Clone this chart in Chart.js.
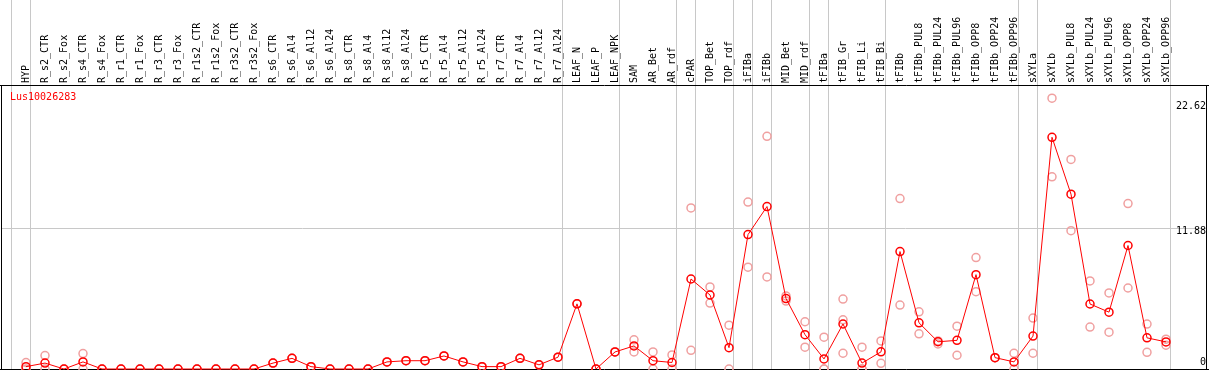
<!DOCTYPE html>
<html>
<head>
<meta charset="utf-8">
<script src="https://cdn.jsdelivr.net/npm/chart.js@4.4.1/dist/chart.umd.min.js"></script>
<style>
  html, body { margin: 0; padding: 0; background: #fff; }
  #wrap { width: 1209px; height: 370px; position: relative; }
</style>
</head>
<body>
<div id="wrap"><canvas id="c" width="1209" height="370"></canvas></div>
<script>
const categories = ["HYP","R_s2_CTR","R_s2_Fox","R_s4_CTR","R_s4_Fox","R_r1_CTR","R_r1_Fox","R_r3_CTR","R_r3_Fox","R_r1s2_CTR","R_r1s2_Fox","R_r3s2_CTR","R_r3s2_Fox","R_s6_CTR","R_s6_Al4","R_s6_Al12","R_s6_Al24","R_s8_CTR","R_s8_Al4","R_s8_Al12","R_s8_Al24","R_r5_CTR","R_r5_Al4","R_r5_Al12","R_r5_Al24","R_r7_CTR","R_r7_Al4","R_r7_Al12","R_r7_Al24","LEAF_N","LEAF_P","LEAF_NPK","SAM","AR_Bet","AR_rdf","cPAR","TOP_Bet","TOP_rdf","iFIBa","iFIBb","MID_Bet","MID_rdf","tFIBa","tFIB_Gr","tFIB_Li","tFIB_Bi","tFIBb","tFIBb_PUL8","tFIBb_PUL24","tFIBb_PUL96","tFIBb_OPP8","tFIBb_OPP24","tFIBb_OPP96","sXYLa","sXYLb","sXYLb_PUL8","sXYLb_PUL24","sXYLb_PUL96","sXYLb_OPP8","sXYLb_OPP24","sXYLb_OPP96"];

const meanValues = [0.2,0.5,0,0.6,0,0,0,0,0,0,0,0,0,0.5,0.9,0.2,0,0,0,0.6,0.7,0.7,1.1,0.6,0.2,0.2,0.9,0.35,1.0,5.5,0,1.44,1.95,0.7,0.55,7.6,6.25,1.8,11.35,13.72,5.95,2.9,0.85,3.8,0.5,1.45,9.92,3.9,2.3,2.42,7.97,0.96,0.6,2.78,19.57,14.76,5.49,4.8,10.43,2.63,2.29];

const rep1Values = [0.55,1.13,0,1.3,0,0,0,0,0,0,0,0,0,0.5,0.9,0.2,0,0,0,0.6,0.7,0.7,1.1,0.6,0.2,0.2,0.9,0.35,1.0,5.5,0,1.44,2.46,1.44,1.19,13.6,6.93,3.7,14.1,19.65,6.17,3.99,2.69,5.91,1.84,2.37,14.39,4.83,2.37,3.62,9.41,0.96,1.33,4.3,22.87,17.7,7.44,6.42,13.97,3.79,2.52];

const rep2Values = [0,0,0,0,0,0,0,0,0,0,0,0,0,0.5,0.9,0.2,0,0,0,0.6,0.7,0.7,1.1,0.6,0.2,0.2,0.9,0.35,1.0,5.5,0,1.44,1.44,0,0,1.58,5.57,0,8.6,7.78,5.74,1.84,0,1.33,0,0.48,5.4,2.97,2.12,1.16,6.53,0.96,0,1.33,16.23,11.68,3.54,3.11,6.84,1.41,2.01];

const rep3Values = {42: 0, 43: 4.15, 44: 0};

const separatorAfter = [-1, 0, 28, 31, 34, 35, 37, 38, 39, 41, 42, 45, 52, 53, 60];
const yTickValues = [0, 11.88, 22.62];
const geneName = "Lus10026283";

const meanPts = meanValues.map((v, i) => ({x: i, y: v}));
const repPts = [];
rep1Values.forEach((v, i) => repPts.push({x: i, y: v}));
rep2Values.forEach((v, i) => repPts.push({x: i, y: v}));
Object.keys(rep3Values).forEach(k => repPts.push({x: +k, y: rep3Values[k]}));

const FONT = "DejaVu Sans Mono";

const decor = {
  id: 'decor',
  beforeDatasetsDraw(chart) {
    const ctx = chart.ctx, xs = chart.scales.x, ys = chart.scales.y, a = chart.chartArea;
    ctx.save();
    ctx.strokeStyle = '#c8c8c8';
    ctx.lineWidth = 1;
    separatorAfter.forEach(i => {
      const px = Math.floor(xs.getPixelForValue(i + 0.237)) + 0.5;
      ctx.beginPath();
      ctx.moveTo(px, 0);
      ctx.lineTo(px, a.bottom);
      ctx.stroke();
    });
    const gy = Math.round(ys.getPixelForValue(yTickValues[1])) + 0.5;
    ctx.beginPath();
    ctx.moveTo(a.left, gy);
    ctx.lineTo(a.right, gy);
    ctx.stroke();
    ctx.strokeStyle = '#000';
    ctx.beginPath();
    ctx.moveTo(0, Math.floor(a.top) - 0.5);
    ctx.lineTo(chart.width, Math.floor(a.top) - 0.5);
    ctx.moveTo(a.left + 0.5, a.top);
    ctx.lineTo(a.left + 0.5, a.bottom);
    ctx.moveTo(a.right - 0.5, a.top);
    ctx.lineTo(a.right - 0.5, a.bottom);
    ctx.moveTo(0, a.bottom + 0.5);
    ctx.lineTo(chart.width, a.bottom + 0.5);
    ctx.stroke();
    ctx.fillStyle = '#000';
    ctx.font = '10px "' + FONT + '"';
    ctx.textAlign = 'left';
    ctx.textBaseline = 'middle';
    categories.forEach((c, i) => {
      const px = xs.getPixelForValue(i);
      ctx.save();
      ctx.translate(px + 0.5, a.top - 3);
      ctx.rotate(-Math.PI / 2);
      ctx.fillText(c, 0, 0);
      ctx.restore();
    });
    ctx.textAlign = 'right';
    const offs = [-6.5, 3, 5.5];
    yTickValues.forEach((v, k) => {
      const py = ys.getPixelForValue(v);
      ctx.fillText(k === 0 ? '0' : v.toFixed(2), a.right - 1, py + offs[k]);
    });
    ctx.fillStyle = '#ff0000';
    ctx.textAlign = 'left';
    ctx.fillText(geneName, 10, a.top + 11);
    ctx.restore();
  }
};

new Chart(document.getElementById('c'), {
  type: 'scatter',
  data: {
    datasets: [
      {
        label: 'mean',
        data: meanPts,
        showLine: true,
        borderColor: '#ff0000',
        borderWidth: 1,
        pointStyle: 'circle',
        pointRadius: 4,
        pointBorderWidth: 1.5,
        pointBorderColor: '#ff0000',
        pointBackgroundColor: 'rgba(0,0,0,0)',
        order: 0,
        clip: false
      },
      {
        label: 'reps',
        data: repPts,
        showLine: false,
        pointStyle: 'circle',
        pointRadius: 4,
        pointBorderWidth: 1.5,
        pointBorderColor: '#f0a0a0',
        pointBackgroundColor: 'rgba(0,0,0,0)',
        order: 1,
        clip: false
      }
    ]
  },
  options: {
    responsive: false,
    animation: false,
    events: [],
    layout: { autoPadding: false, padding: { left: 1, right: 2, top: 86, bottom: 1 } },
    plugins: { legend: { display: false }, tooltip: { enabled: false } },
    scales: {
      x: {
        type: 'linear',
        min: -25 / 19,
        max: -25 / 19 + 1206 / 19,
        display: false
      },
      y: {
        type: 'linear',
        min: 0,
        max: 23.9,
        display: false
      }
    }
  },
  plugins: [decor]
});
</script>
</body>
</html>
